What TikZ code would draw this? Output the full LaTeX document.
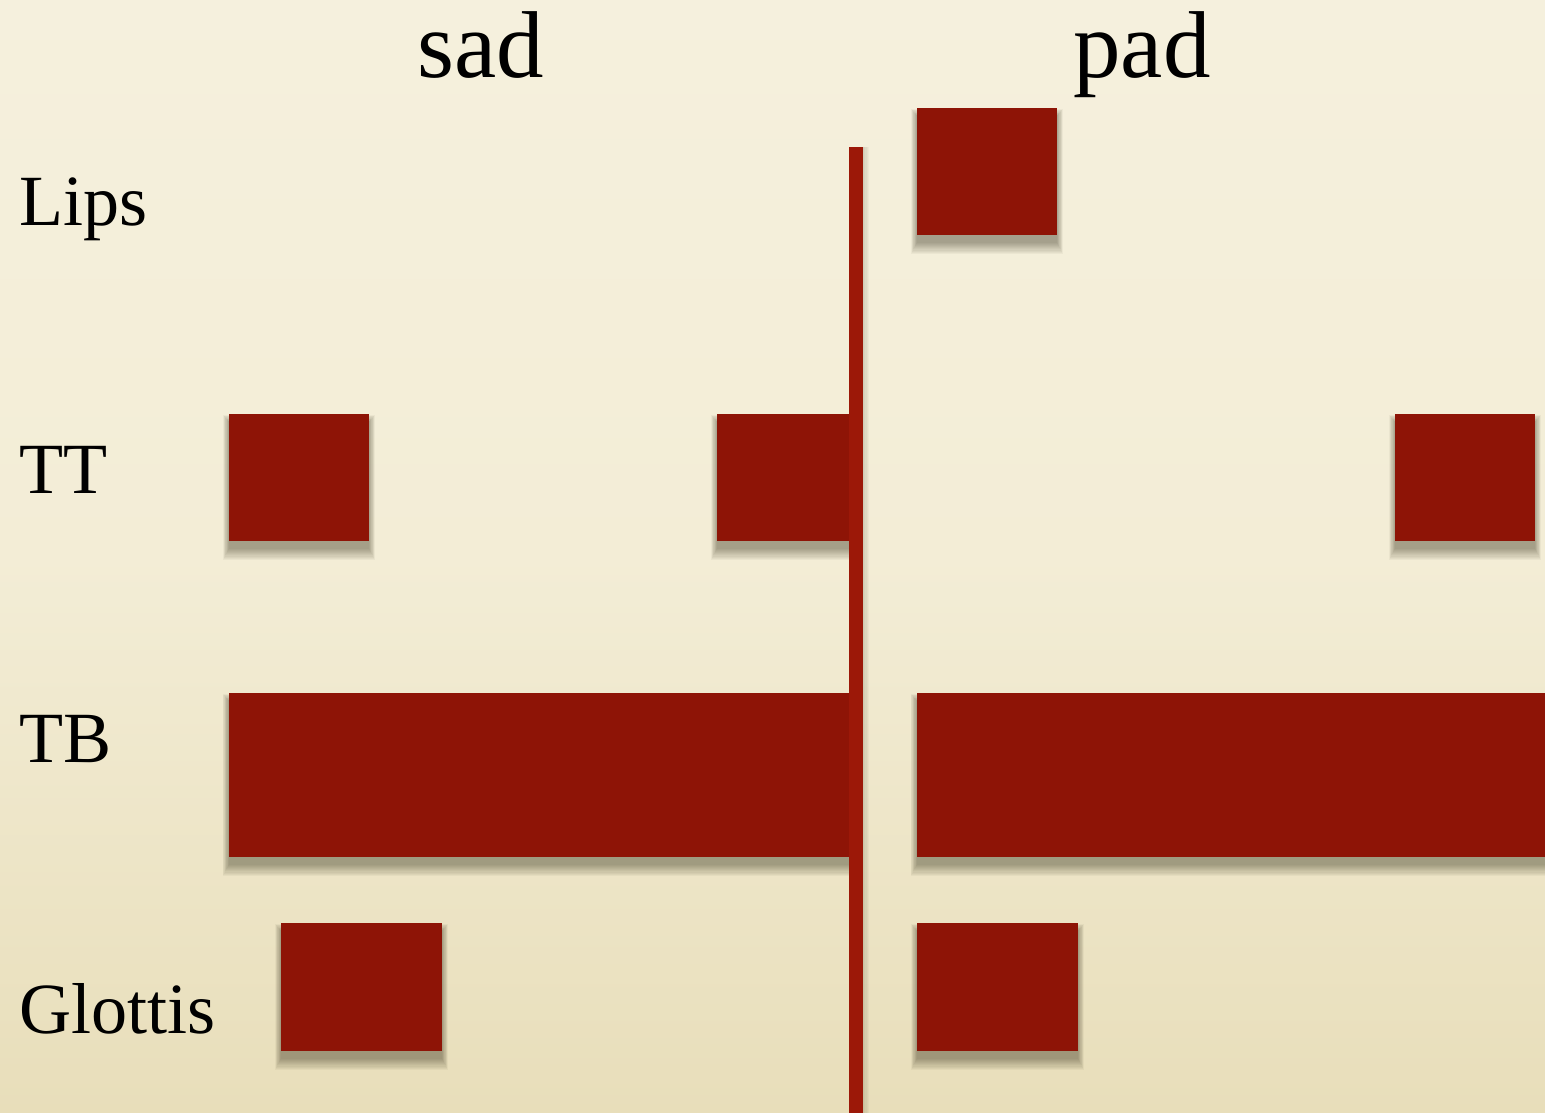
\documentclass[tikz,border=0pt]{standalone}
\usepackage{fontspec}
\setmainfont{Liberation Serif}
\usetikzlibrary{backgrounds}
\definecolor{gred}{RGB}{142,20,6}
\definecolor{lred}{RGB}{156,24,8}
\definecolor{bgtop}{RGB}{245,240,221}
\definecolor{bgmid}{RGB}{243,237,214}
\definecolor{bgbot}{RGB}{232,222,186}
\definecolor{shc}{RGB}{50,45,25}
\begin{document}
\begin{tikzpicture}[x=0.01cm,y=-0.01cm,
  gest/.style={fill=gred, draw=none, inner sep=0pt, outer sep=0pt, rectangle},
  title/.style={font=\fontsize{27}{30}\selectfont, inner sep=0pt, anchor=base},
  lab/.style={font=\fontsize{20.5}{24}\selectfont, inner sep=0pt, anchor=base west}]
\useasboundingbox (0,0) rectangle (1545,1113);
% gestures
\node[gest, minimum width=1.40cm, minimum height=1.27cm] (lips) at (987,171.5) {};
\node[gest, minimum width=1.40cm, minimum height=1.27cm] (tt1) at (299,477.5) {};
\node[gest, minimum width=1.39cm, minimum height=1.27cm] (tt2) at (786.5,477.5) {};
\node[gest, minimum width=1.40cm, minimum height=1.27cm] (tt3) at (1465,477.5) {};
\node[gest, minimum width=6.27cm, minimum height=1.64cm] (tb1) at (542.5,775) {};
\node[gest, minimum width=6.28cm, minimum height=1.64cm] (tb2) at (1231,775) {};
\node[gest, minimum width=1.61cm, minimum height=1.28cm] (gl1) at (361.5,987) {};
\node[gest, minimum width=1.61cm, minimum height=1.28cm] (gl2) at (997.5,987) {};
% divider
\node[gest, fill=lred, minimum width=0.14cm, minimum height=9.66cm] (divider) at (856,630) {};
% titles
\node[title] (sad) at (481,78) {sad};
\node[title] (pad) at (1142,78) {pad};
% tier labels
\node[lab] (llips) at (19,226) {Lips};
\node[lab] (ltt) at (19,494) {TT};
\node[lab] (ltb) at (19,763) {TB};
\node[lab] (lgl) at (19,1033) {Glottis};
\begin{scope}[on background layer]
\shade[top color=bgtop, bottom color=bgbot, middle color=bgmid] (0,0) rectangle (1545,1113);
\foreach \n in {lips,tt1,tt2,tt3,tb1,tb2,gl1,gl2}{
  \foreach \r in {0,...,10}{
    \fill[shc, opacity=0.045] ([shift={(-\r*0.17pt,-2.3pt+\r*0.2pt)}]\n.north west) rectangle ([shift={(\r*0.17pt,-2.3pt-\r*0.3pt)}]\n.south east);
  }
}
\foreach \r in {0,...,4}{
  \fill[shc, opacity=0.035] (divider.north east) rectangle ([shift={(\r*0.3pt+0.4pt,0pt)}]divider.south east);
}
\end{scope}
\end{tikzpicture}
\end{document}
